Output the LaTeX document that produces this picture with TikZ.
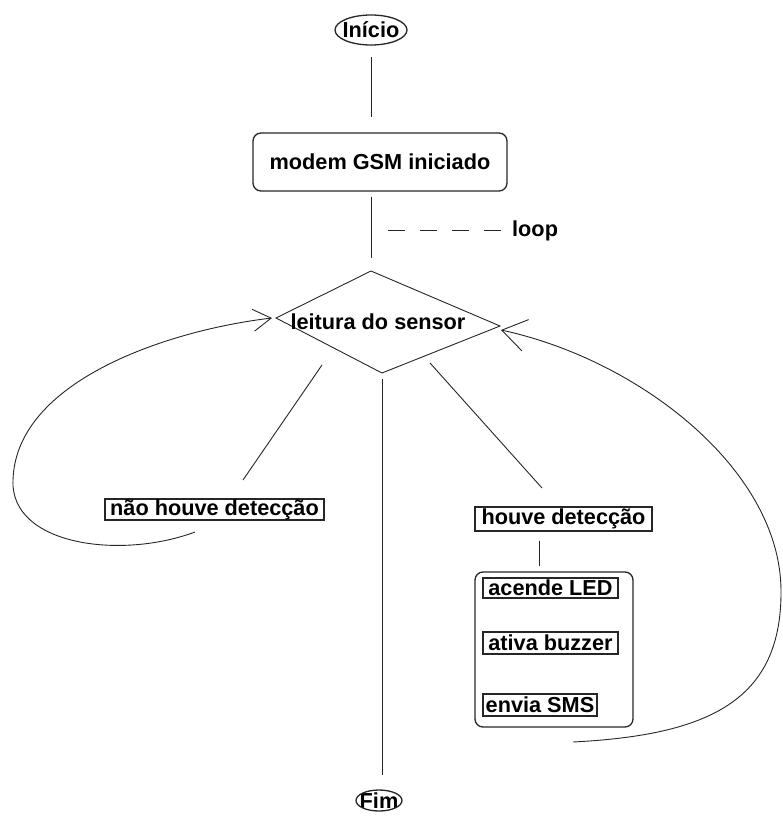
\documentclass[tikz,border=0pt]{standalone}
\usepackage{fontspec}
\setmainfont{Liberation Sans}
\usetikzlibrary{arrows.meta,calc}
\begin{document}
\begin{tikzpicture}[x=1pt,y=-1pt,
  every node/.style={font=\fontsize{21.7}{26}\selectfont\bfseries, text=black, inner sep=0pt},
  ink/.style={draw=black!85, line width=0.9pt},
  frame/.style={draw=black!85, line width=1.3pt},
  tag/.style={draw=black!85, line width=1.1pt},
  roundbox/.style={frame, rounded corners=8pt},
]
\useasboundingbox (0,0) rectangle (782,816);

% start / end terminals
\node[minimum width=72pt, minimum height=30pt] (start) at (371,30) {Início};
\draw[frame] (start.center) ellipse [x radius=36pt, y radius=15pt];
\node[minimum width=46pt, minimum height=21pt] (fim) at (379,800.5) {Fim};
\draw[frame] (fim.center) ellipse [x radius=23pt, y radius=10.5pt];

% modem initialisation
\node[roundbox, minimum width=254pt, minimum height=58pt] (gsm) at (380,162) {modem GSM iniciado};

% sensor reading decision
\coordinate (dT) at (371,271);
\coordinate (dR) at (500,326);
\coordinate (dB) at (382,373);
\coordinate (dL) at (276,318);
\draw[ink] (dT) -- (dR) -- (dB) -- (dL) -- cycle;
\node (dec) at (378,322) {leitura do sensor};

% loop marker
\coordinate (lp) at (388,230);
\node[anchor=west] (loop) at (512,231) {loop};
\draw[ink, dash pattern=on 17pt off 15pt, shorten >=10pt] (lp) -- (lp -| loop.west);

% outcomes
\node[tag, minimum width=219pt, minimum height=21pt] (nao) at (214.5,509.5) {não houve detecção};
\node[tag, minimum width=177pt, minimum height=24pt] (sim) at (563.5,519) {houve detecção};
\node[roundbox, minimum width=158pt, minimum height=155pt] (acts) at (554,649.5) {};
\node[tag, minimum width=135pt, minimum height=20pt] (led) at (550.5,588) {acende LED};
\node[tag, minimum width=135pt, minimum height=22pt] (buz) at (550.5,643) {ativa buzzer};
\node[tag, minimum width=114pt, minimum height=22pt] (sms) at (540,705) {envia SMS};

% connectors
\draw[ink, shorten <=12pt, shorten >=15pt] (start.south) -- (start.south |- gsm.north);
\draw[ink, shorten <=5pt, shorten >=13pt] (gsm.south -| dT) -- (dT);
\coordinate (naoFrom) at (322,365);
\coordinate (naoTo) at (243,480);
\draw[ink] (naoFrom) -- (naoTo);
\coordinate (simFrom) at (430,363);
\coordinate (simTo) at (542,488);
\draw[ink] (simFrom) -- (simTo);
\coordinate (simLink) at (539,0);
\draw[ink, shorten <=9pt, shorten >=5pt] (sim.south -| simLink) -- (acts.north -| simLink);
\draw[ink, shorten <=6pt, shorten >=15pt] (dB) -- (dB |- fim.north);

% return paths to the sensor reading
\coordinate (leftFrom) at (195,532);
\coordinate (leftTip) at (272,318);
\draw[ink, -{Straight Barb[length=18pt,width=22pt]}] (leftFrom)
  .. controls (120,560) and (10,545) .. (13,480)
  .. controls (16,380) and (170,330) .. (leftTip);
\coordinate (rightFrom) at (573,742);
\coordinate (rightTip) at (501,330);
\draw[ink, -{Straight Barb[length=24pt,width=32pt]}] (rightFrom)
  .. controls (710,735) and (782,700) .. (781,590)
  .. controls (780,470) and (640,360) .. (rightTip);
\end{tikzpicture}
\end{document}
